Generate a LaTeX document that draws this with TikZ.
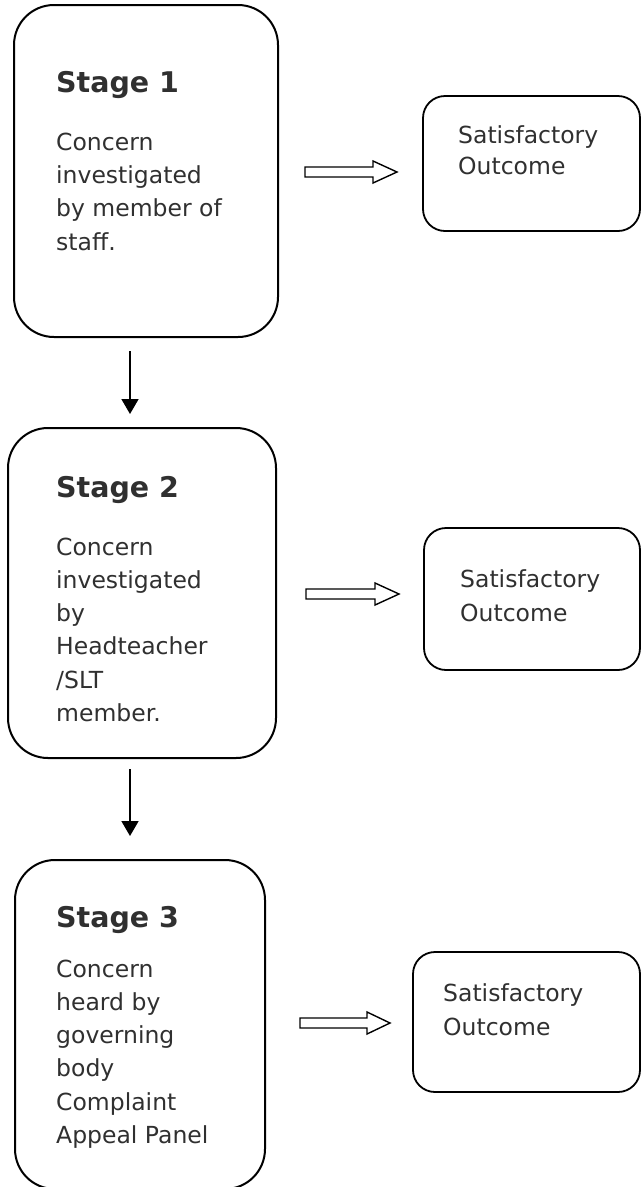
\documentclass[tikz,border=0pt]{standalone}
\usepackage{fontspec}
\setmainfont{DejaVu Sans}
\usetikzlibrary{arrows.meta}
\definecolor{txt}{RGB}{48,48,48}
\tikzset{
  stagebox/.style={draw, line width=2pt, rounded corners=40pt, inner sep=0pt},
  outbox/.style={draw, line width=1.8pt, rounded corners=22pt, inner sep=0pt},
  heading/.style={anchor=base west, inner sep=0pt, text=txt, font=\fontsize{28.5}{33}\selectfont\bfseries},
  body/.style={anchor=base west, inner sep=0pt, align=left, text=txt, font=\fontsize{23.5}{33.3}\selectfont},
  down/.style={line width=1.7pt, -{Triangle[width=17pt,length=15pt]}},
  hollow/.style={draw, line width=1.4pt, fill=white, line join=miter}
}
\begin{document}
\begin{tikzpicture}[x=1pt, y=-1pt]
\useasboundingbox (0,0) rectangle (641,1187);
% stage boxes
\node[stagebox, minimum width=264pt, minimum height=332pt] (s1) at (146,171) {};
\node[stagebox, minimum width=268pt, minimum height=330pt] (s2) at (142,593) {};
\node[stagebox, minimum width=250pt, minimum height=329pt] (s3) at (140,1024.5) {};
% outcome boxes
\node[outbox, minimum width=217pt, minimum height=135pt] (o1) at (531.5,163.5) {};
\node[outbox, minimum width=216pt, minimum height=142pt] (o2) at (532,599) {};
\node[outbox, minimum width=227pt, minimum height=140pt] (o3) at (526.5,1022) {};
% texts (anchor = baseline of the last line)
\node[heading] (h1) at (56,92) {Stage 1};
\node[body] (b1) at (56,250) {Concern\\investigated\\by member of\\staff.};
\node[heading] (h2) at (56,497) {Stage 2};
\node[body] (b2) at (56,721.5) {Concern\\investigated\\by\\Headteacher\\/SLT\\member.};
\node[heading] (h3) at (56,927) {Stage 3};
\node[body] (b3) at (56,1143.5) {Concern\\heard by\\governing\\body\\Complaint\\Appeal Panel};
\node[body, font=\fontsize{23.5}{31}\selectfont] (u1) at (458,174) {Satisfactory\\Outcome};
\node[body] (u2) at (460,621) {Satisfactory\\Outcome};
\node[body] (u3) at (443,1035) {Satisfactory\\Outcome};
% down arrows
\coordinate (cx) at (130,0);
\draw[down, shorten <=13pt, shorten >=13pt] (s1.south -| cx) -- (s2.north -| cx);
\draw[down, shorten <=10pt, shorten >=23pt] (s2.south -| cx) -- (s3.north -| cx);
% hollow arrows
\coordinate (a1) at (305,172);
\coordinate (a2) at (306,594);
\coordinate (a3) at (300,1023);
\draw[hollow] (a1) ++(0,-5) -- ++(68,0) -- ++(0,-6) -- ++(24,11) -- ++(-24,11) -- ++(0,-6) -- ++(-68,0) -- cycle;
\draw[hollow] (a2) ++(0,-5) -- ++(69,0) -- ++(0,-6) -- ++(24,11) -- ++(-24,11) -- ++(0,-6) -- ++(-69,0) -- cycle;
\draw[hollow] (a3) ++(0,-5) -- ++(67,0) -- ++(0,-6) -- ++(23,11) -- ++(-23,11) -- ++(0,-6) -- ++(-67,0) -- cycle;
\end{tikzpicture}
\end{document}
